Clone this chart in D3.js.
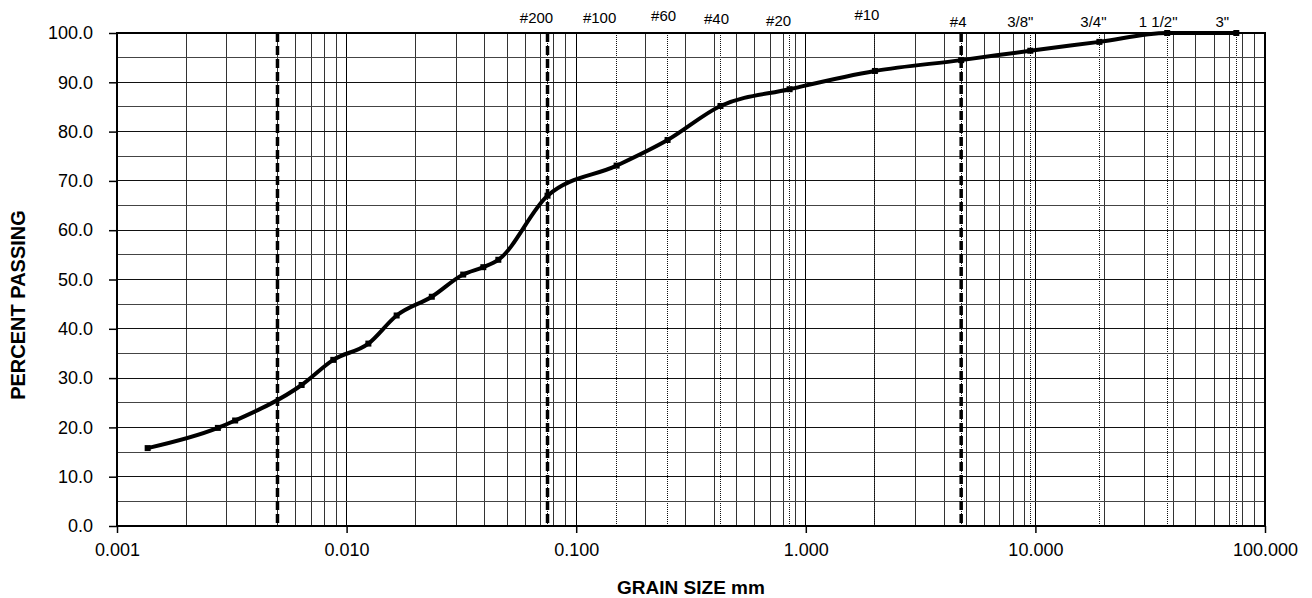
<!DOCTYPE html>
<html>
<head>
<meta charset="utf-8">
<script src="https://cdn.jsdelivr.net/npm/d3@7"></script>
<style>
  body { margin: 0; background: #fff; }
  svg { display: block; font-family: "Liberation Sans", Arial, sans-serif; }
  .grid line { shape-rendering: crispEdges; }
</style>
</head>
<body>
<svg id="grain-chart" width="1312" height="598"></svg>
<script>
// grain size distribution curve
const grainSize = [0.00136, 0.00275, 0.00327, 0.00637, 0.00875, 0.01244, 0.01652, 0.0235, 0.0322, 0.0394, 0.0458,
                   0.075, 0.15, 0.25, 0.425, 0.85, 2.0, 4.75, 9.5, 19, 37.5, 75];
const percentPassing = [15.8, 19.9, 21.4, 28.6, 33.7, 37.0, 42.7, 46.5, 51.0, 52.5, 54.0,
                        67.0, 73.1, 78.3, 85.2, 88.6, 92.3, 94.5, 96.4, 98.2, 100.0, 100.0];

const sieveSizes = [0.075, 0.15, 0.25, 0.425, 0.85, 2.0, 4.75, 9.5, 19, 37.5, 75];
const sieveNames = ["#200", "#100", "#60", "#40", "#20", "#10", "#4", "3/8\"", "3/4\"", "1 1/2\"", "3\""];
const boundaries = [0.005, 0.075, 4.75];   // clay / silt / sand / gravel
const xTicks = [0.001, 0.01, 0.1, 1, 10, 100];
const yTicks = [0, 10, 20, 30, 40, 50, 60, 70, 80, 90, 100];

// label placement nudges (the source had hand placed text boxes)
const labelDx = [-11, -17, -4, -4, -11, -8, -3, -10, -6, -9, -14];
const labelY = [23, 23, 21, 24, 26, 20, 27, 27, 27, 27, 27];

const svg = d3.select("#grain-chart");
const margin = {top: 33, right: 47, bottom: 72, left: 117};
const w = 1312 - margin.left - margin.right;
const h = 598 - margin.top - margin.bottom;
const g = svg.append("g").attr("transform", `translate(${margin.left},${margin.top})`);

const x = d3.scaleLog().domain([0.001, 100]).range([0, w]);
const y = d3.scaleLinear().domain([0, 100]).range([h, 0]);

// minor log grid
const minor = [];
for (let d = 0.001; d < 100; d *= 10) {
    for (let k = 2; k <= 9; k++) minor.push(+(k * d).toPrecision(3));
}
g.append("g").attr("class", "grid").selectAll("line").data(minor).join("line")
    .attr("x1", d => x(d)).attr("x2", d => x(d)).attr("y1", 0).attr("y2", h)
    .attr("stroke", "#333").attr("stroke-width", 1);
g.append("g").attr("class", "grid").selectAll("line").data(xTicks.slice(1, -1)).join("line")
    .attr("x1", d => x(d)).attr("x2", d => x(d)).attr("y1", 0).attr("y2", h)
    .attr("stroke", "#000").attr("stroke-width", 1);

// sieve lines (thin dotted)
g.append("g").attr("class", "grid").selectAll("line").data(sieveSizes).join("line")
    .attr("x1", d => x(d)).attr("x2", d => x(d)).attr("y1", 0).attr("y2", h)
    .attr("stroke", "#111").attr("stroke-width", 1).attr("stroke-dasharray", "1,1");

// horizontal grid every 5%
g.append("g").attr("class", "grid").selectAll("line").data(d3.range(5, 100, 5)).join("line")
    .attr("x1", 0).attr("x2", w).attr("y1", d => y(d)).attr("y2", d => y(d))
    .attr("stroke", d => d % 10 === 0 ? "#111" : "#444").attr("stroke-width", 1);

// boundary dashed lines
g.append("g").selectAll("line").data(boundaries).join("line")
    .attr("x1", d => x(d)).attr("x2", d => x(d)).attr("y1", 0).attr("y2", h)
    .attr("stroke", "#000").attr("stroke-width", 3.5).attr("stroke-dasharray", "9,4");

// frame
g.append("rect").attr("width", w).attr("height", h)
    .attr("fill", "none").attr("stroke", "#000").attr("stroke-width", 2);

// axes
const yAxis = g.append("g")
    .call(d3.axisLeft(y).tickValues(yTicks).tickSize(8).tickPadding(16).tickFormat(d3.format(".1f")));
const xAxis = g.append("g").attr("transform", `translate(0,${h})`)
    .call(d3.axisBottom(x).tickValues(xTicks).tickSize(7).tickPadding(10).tickFormat(d3.format(".3f")));
[yAxis, xAxis].forEach(a => {
    a.select(".domain").remove();
    a.selectAll("line").attr("stroke", "#000").attr("stroke-width", 1.5);
    a.selectAll("text").attr("fill", "#000").style("font-size", "18px")
        .style("font-family", "'Liberation Sans', Arial, sans-serif");
});

// curve
const pts = grainSize.map((s, i) => ({s: s, p: percentPassing[i]}));
const line = d3.line().x(d => x(d.s)).y(d => y(d.p)).curve(d3.curveMonotoneX);
g.append("path").datum(pts)
    .attr("fill", "none").attr("stroke", "#000").attr("stroke-width", 4)
    .attr("stroke-linejoin", "round").attr("d", line);
g.append("g").selectAll("rect").data(pts).join("rect")
    .attr("x", d => x(d.s) - 3).attr("y", d => y(d.p) - 3)
    .attr("width", 6).attr("height", 6).attr("fill", "#000");

// sieve labels on top
svg.append("g").selectAll("text").data(sieveSizes).join("text")
    .attr("x", (d, i) => margin.left + x(d) + labelDx[i])
    .attr("y", (d, i) => labelY[i])
    .attr("text-anchor", "middle")
    .style("font-size", "15px")
    .text((d, i) => sieveNames[i]);

// axis titles
svg.append("text")
    .attr("transform", "translate(25,305) rotate(-90)")
    .attr("text-anchor", "middle")
    .style("font-size", "20px").style("font-weight", "bold")
    .text("PERCENT PASSING");
svg.append("text")
    .attr("x", margin.left + w / 2).attr("y", 594)
    .attr("text-anchor", "middle")
    .style("font-size", "19px").style("font-weight", "bold")
    .text("GRAIN SIZE mm");
</script>
</body>
</html>
